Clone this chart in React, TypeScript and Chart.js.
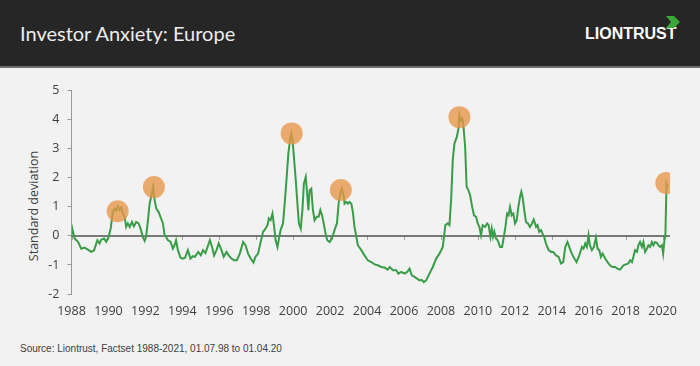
import React, { useEffect, useRef } from "react";
import { Chart, registerables } from "chart.js";

Chart.register(...registerables);

// ---- data ----
const years = [
  1988.03, 1988.08, 1988.17, 1988.35, 1988.53, 1988.71, 1988.89, 1989.07, 1989.22, 1989.4,
  1989.52, 1989.61, 1989.76, 1989.88, 1990.01, 1990.12, 1990.24, 1990.33, 1990.42, 1990.51,
  1990.6, 1990.69, 1990.78, 1990.88, 1990.96, 1991.05, 1991.15, 1991.27, 1991.38, 1991.5,
  1991.63, 1991.74, 1991.86, 1991.96, 1992.04, 1992.14, 1992.23, 1992.35, 1992.42, 1992.5,
  1992.59, 1992.71, 1992.85, 1992.95, 1993.04, 1993.12, 1993.22, 1993.36, 1993.49, 1993.58,
  1993.66, 1993.76, 1993.9, 1994.03, 1994.15, 1994.3, 1994.44, 1994.57, 1994.68, 1994.86,
  1995.0, 1995.12, 1995.25, 1995.4, 1995.49, 1995.61, 1995.72, 1995.85, 1995.97, 1996.12,
  1996.24, 1996.39, 1996.51, 1996.66, 1996.8, 1996.95, 1997.11, 1997.29, 1997.42, 1997.56,
  1997.7, 1997.85, 1997.96, 1998.1, 1998.24, 1998.37, 1998.5, 1998.61, 1998.68, 1998.78,
  1998.88, 1998.96, 1999.05, 1999.15, 1999.23, 1999.32, 1999.45, 1999.54, 1999.65, 1999.74,
  1999.83, 1999.9, 1999.97, 2000.04, 2000.14, 2000.23, 2000.31, 2000.41, 2000.5, 2000.58,
  2000.68, 2000.77, 2000.82, 2000.89, 2000.98, 2001.07, 2001.16, 2001.27, 2001.38, 2001.47,
  2001.58, 2001.67, 2001.77, 2001.85, 2001.97, 2002.1, 2002.24, 2002.37, 2002.46, 2002.55,
  2002.64, 2002.73, 2002.78, 2002.88, 2002.96, 2003.05, 2003.15, 2003.23, 2003.32, 2003.42,
  2003.5, 2003.69, 2003.86, 2004.04, 2004.23, 2004.41, 2004.58, 2004.77, 2004.95, 2005.12,
  2005.23, 2005.4, 2005.58, 2005.7, 2005.85, 2006.03, 2006.17, 2006.3, 2006.42, 2006.57,
  2006.71, 2006.84, 2006.96, 2007.07, 2007.2, 2007.38, 2007.56, 2007.74, 2007.92, 2008.1,
  2008.24, 2008.37, 2008.46, 2008.55, 2008.64, 2008.73, 2008.86, 2008.95, 2009.0, 2009.07,
  2009.15, 2009.22, 2009.31, 2009.39, 2009.49, 2009.58, 2009.69, 2009.79, 2009.9, 2009.99,
  2010.08, 2010.17, 2010.26, 2010.39, 2010.5, 2010.58, 2010.68, 2010.75, 2010.82, 2010.89,
  2010.98, 2011.07, 2011.2, 2011.31, 2011.39, 2011.49, 2011.58, 2011.66, 2011.74, 2011.83,
  2011.92, 2012.01, 2012.1, 2012.19, 2012.28, 2012.35, 2012.42, 2012.51, 2012.6, 2012.71,
  2012.82, 2012.93, 2013.02, 2013.15, 2013.23, 2013.32, 2013.42, 2013.5, 2013.59, 2013.68,
  2013.83, 2013.96, 2014.08, 2014.23, 2014.37, 2014.5, 2014.62, 2014.73, 2014.85, 2014.98,
  2015.09, 2015.22, 2015.34, 2015.49, 2015.63, 2015.72, 2015.81, 2015.9, 2015.99, 2016.06,
  2016.17, 2016.28, 2016.39, 2016.48, 2016.57, 2016.66, 2016.75, 2016.89, 2017.02, 2017.15,
  2017.29, 2017.43, 2017.56, 2017.69, 2017.79, 2017.88, 2018.01, 2018.14, 2018.24, 2018.34,
  2018.42, 2018.51, 2018.61, 2018.69, 2018.78, 2018.88, 2018.96, 2019.05, 2019.15, 2019.23,
  2019.32, 2019.42, 2019.5, 2019.59, 2019.69, 2019.77, 2019.86, 2019.96, 2020.03, 2020.1,
  2020.15, 2020.21, 2020.28,
];

const values = [
  0.08, 0.15, -0.09, -0.2, -0.44, -0.4, -0.47, -0.55, -0.5, -0.15,
  -0.26, -0.13, -0.09, -0.2, -0.03, 0.25, 0.83, 0.94, 0.88, 1.02,
  0.9, 0.98, 0.77, 0.65, 0.31, 0.43, 0.31, 0.48, 0.33, 0.48,
  0.43, 0.25, -0.03, -0.17, -0.03, 0.54, 1.11, 1.46, 1.69, 1.23,
  0.94, 0.83, 0.6, 0.43, 0.02, -0.03, -0.15, -0.2, -0.44, -0.32,
  -0.15, -0.49, -0.75, -0.78, -0.75, -0.49, -0.78, -0.7, -0.72, -0.55,
  -0.67, -0.49, -0.59, -0.32, -0.15, -0.38, -0.67, -0.49, -0.26, -0.49,
  -0.72, -0.55, -0.67, -0.78, -0.84, -0.84, -0.61, -0.21, -0.32, -0.61,
  -0.78, -0.92, -0.72, -0.61, -0.21, 0.14, 0.25, 0.37, 0.6, 0.54,
  0.77, 0.37, -0.15, -0.38, -0.09, 0.2, 0.43, 1.11, 2.03, 2.84,
  3.3, 3.53, 3.3, 2.72, 1.92, 1.11, 0.43, 0.25, 0.89, 1.8,
  2.03, 1.34, 0.89, 1.57, 1.63, 0.89, 0.54, 0.66, 0.66, 0.89,
  0.66, 0.37, 0.02, -0.15, -0.21, -0.09, 0.2, 0.43, 1.11, 1.46,
  1.63, 1.4, 1.11, 1.17, 1.11, 1.17, 1.11, 0.83, 0.31, -0.03,
  -0.32, -0.49, -0.67, -0.84, -0.9, -0.98, -1.01, -1.07, -1.09, -1.16,
  -1.07, -1.18, -1.18, -1.3, -1.24, -1.3, -1.24, -1.13, -1.36, -1.41,
  -1.47, -1.53, -1.51, -1.59, -1.53, -1.3, -1.07, -0.78, -0.61, -0.38,
  0.37, 0.43, 0.37, 1.23, 2.61, 3.18, 3.41, 3.7, 4.16, 3.99,
  4.05, 3.76, 3.07, 1.69, 1.57, 1.4, 1.0, 0.71, 0.66, 0.43,
  0.31, 0.02, 0.37, 0.31, 0.43, 0.37, -0.03, 0.25, -0.03, 0.14,
  -0.09, -0.15, -0.38, -0.38, -0.09, 0.31, 0.77, 0.71, 1.0, 0.71,
  0.77, 0.43, 0.54, 1.0, 1.34, 1.52, 1.34, 0.89, 0.48, 0.43,
  0.31, 0.43, 0.56, 0.31, 0.37, 0.14, 0.2, 0.08, -0.03, -0.26,
  -0.49, -0.55, -0.55, -0.67, -0.72, -0.95, -0.9, -0.38, -0.21, -0.44,
  -0.62, -0.78, -0.9, -0.67, -0.38, -0.44, -0.26, -0.38, 0.02, -0.32,
  -0.49, -0.38, -0.06, -0.44, -0.49, -0.72, -0.61, -0.78, -0.9, -1.01,
  -1.07, -1.07, -1.13, -1.16, -1.09, -1.01, -0.98, -0.95, -0.84, -0.9,
  -0.72, -0.49, -0.55, -0.32, -0.21, -0.38, -0.21, -0.55, -0.44, -0.32,
  -0.38, -0.21, -0.32, -0.21, -0.24, -0.32, -0.38, -0.32, -0.61, -0.15,
  0.02, 1.8, 1.69,
];

const peakYears = [1990.5, 1992.46, 1999.92, 2002.58, 2009.0, 2020.2];
const peakValues = [0.85, 1.68, 3.53, 1.58, 4.09, 1.82];

const xTickYears = [
  1988, 1990, 1992, 1994, 1996, 1998, 2000, 2002, 2004, 2006, 2008, 2010, 2012, 2014,
  2016, 2018, 2020,
];
const yMin = -2;
const yMax = 5;
const xMin = 1988;
const xMax = 2020.4;

const TITLE = "Investor Anxiety: Europe";
const Y_TITLE = "Standard deviation";
const SOURCE = "Source: Liontrust, Factset 1988-2021, 01.07.98 to 01.04.20";

const AXIS_FONT = '"Open Sans", "Noto Sans", sans-serif';

const zeroLinePlugin = {
  id: "zeroLine",
  beforeDatasetsDraw(chart: any) {
    const { ctx, chartArea, scales } = chart;
    const y0 = scales.y.getPixelForValue(0);
    ctx.save();
    ctx.strokeStyle = "#a0a0a0";
    ctx.lineWidth = 1;
    xTickYears.forEach((v) => {
      const x = Math.round(scales.x.getPixelForValue(v)) + 0.5;
      ctx.beginPath();
      ctx.moveTo(x, y0);
      ctx.lineTo(x, y0 + 4);
      ctx.stroke();
    });
    ctx.strokeStyle = "#505050";
    ctx.lineWidth = 1.5;
    ctx.beginPath();
    ctx.moveTo(chartArea.left, y0);
    ctx.lineTo(chartArea.right, y0);
    ctx.stroke();
    ctx.restore();
  },
};

export default function App() {
  const canvasRef = useRef<HTMLCanvasElement | null>(null);

  useEffect(() => {
    if (!canvasRef.current) return;
    const chart = new Chart(canvasRef.current, {
      type: "line",
      data: {
        datasets: [
          {
            type: "scatter",
            data: peakYears.map((x, i) => ({ x, y: peakValues[i] })),
            backgroundColor: "rgba(232, 150, 72, 0.78)",
            borderWidth: 0,
            pointRadius: 11,
            pointHoverRadius: 11,
            order: 0,
          } as any,
          {
            type: "line",
            data: years.map((x, i) => ({ x, y: values[i] })),
            borderColor: "#389d47",
            borderWidth: 2,
            pointRadius: 0,
            tension: 0,
            fill: false,
            order: 1,
          } as any,
        ],
      },
      options: {
        animation: false,
        responsive: false,
        devicePixelRatio: 1,
        layout: { padding: { top: 22.7, right: 30, left: 0, bottom: 0 } },
        plugins: {
          legend: { display: false },
          tooltip: { enabled: false },
        },
        scales: {
          x: {
            type: "linear",
            min: xMin,
            max: xMax,
            position: "bottom",
            afterBuildTicks: (s: any) => {
              s.ticks = xTickYears.map((v) => ({ value: v }));
            },
            afterFit: (s: any) => {
              s.height = 42;
            },
            grid: { display: false, drawTicks: false },
            border: { display: false },
            ticks: {
              color: "#404040",
              font: { family: AXIS_FONT, size: 12.5 },
              padding: 10,
              maxRotation: 0,
              autoSkip: false,
              callback: (v: any) => String(v),
            },
          },
          y: {
            type: "linear",
            min: yMin,
            max: yMax,
            afterFit: (s: any) => {
              s.width = 71.5;
            },
            ticks: {
              stepSize: 1,
              color: "#404040",
              font: { family: AXIS_FONT, size: 12.5 },
              padding: 8,
            },
            grid: {
              drawOnChartArea: false,
              drawTicks: true,
              tickLength: 4,
              tickColor: "#9a9a9a",
              color: "#9a9a9a",
            },
            border: { display: true, color: "#9a9a9a", width: 1 },
          },
        },
      },
      plugins: [zeroLinePlugin],
    } as any);
    return () => chart.destroy();
  }, []);

  return (
    <div
      style={{
        position: "fixed",
        left: 0,
        top: 0,
        width: 700,
        height: 366,
        background: "#f2f2f2",
        overflow: "hidden",
      }}
    >
      <div
        style={{
          position: "absolute",
          left: 0,
          top: 0,
          width: 700,
          height: 66,
          background: "#262626",
          borderBottom: "2px solid #6e6e6e",
        }}
      >
        <div
          style={{
            position: "absolute",
            left: 20,
            top: 20,
            color: "#ececec",
            fontFamily: '"Lato", "Open Sans", sans-serif',
            fontSize: 20,
            lineHeight: "26px",
            whiteSpace: "nowrap",
          }}
        >
          {TITLE}
        </div>
        <div
          style={{
            position: "absolute",
            left: 585,
            top: 25,
            color: "#ffffff",
            fontFamily: '"Liberation Sans Narrow", "Liberation Sans", sans-serif',
            fontWeight: 700,
            fontSize: 16,
            lineHeight: "18px",
            whiteSpace: "nowrap",
          }}
        >
          LIONTRUST
        </div>
        <svg
          style={{ position: "absolute", left: 666, top: 16 }}
          width={14}
          height={12}
          viewBox="0 0 14 12"
        >
          <polygon points="0,0 8,0 14,6 8,12 0,12 5,6" fill="#3aa836" />
        </svg>
      </div>
      <div
        style={{
          position: "absolute",
          left: 33,
          top: 206,
          transform: "translate(-50%, -50%) rotate(-90deg)",
          color: "#404040",
          fontFamily: AXIS_FONT,
          fontSize: 12.5,
          whiteSpace: "nowrap",
        }}
      >
        {Y_TITLE}
      </div>
      <canvas
        ref={canvasRef}
        width={700}
        height={268}
        style={{ position: "absolute", left: 0, top: 68, width: 700, height: 268 }}
      />
      <div
        style={{
          position: "absolute",
          left: 20,
          top: 343,
          color: "#404040",
          fontFamily: '"Liberation Sans Narrow", "Liberation Sans", sans-serif',
          fontSize: 10,
          lineHeight: "12px",
          whiteSpace: "nowrap",
        }}
      >
        {SOURCE}
      </div>
    </div>
  );
}
